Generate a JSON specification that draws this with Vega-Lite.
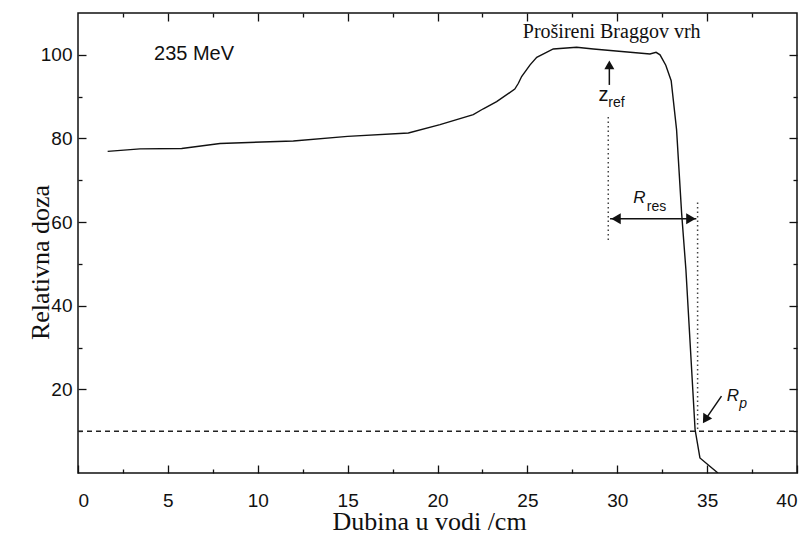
{
  "$schema": "https://vega.github.io/schema/vega-lite/v6.json",
  "width": 719,
  "height": 460,
  "autosize": {"type": "none"},
  "padding": {"left": 78, "top": 13, "right": 14, "bottom": 61},
  "background": "white",
  "config": {
    "view": {"stroke": "#111", "strokeWidth": 1.5},
    "axis": {
      "domain": false, "grid": false,
      "labelFont": "Liberation Sans", "labelFontSize": 19, "labelColor": "#111",
      "tickColor": "#111", "tickWidth": 1.3,
      "titleFont": "Liberation Serif", "titleFontSize": 26, "titleFontWeight": "normal", "titleColor": "#111"
    }
  },
  "datasets": {
    "curve": [
      {"d": 1.65, "v": 76.9}, {"d": 3.45, "v": 77.5}, {"d": 5.77, "v": 77.6}, {"d": 7.9, "v": 78.8},
      {"d": 11.98, "v": 79.4}, {"d": 15.0, "v": 80.5}, {"d": 18.38, "v": 81.3}, {"d": 20.14, "v": 83.3},
      {"d": 21.99, "v": 85.7}, {"d": 22.55, "v": 87.1}, {"d": 23.29, "v": 88.8}, {"d": 24.3, "v": 91.8},
      {"d": 24.5, "v": 93.2}, {"d": 24.68, "v": 94.8}, {"d": 25.15, "v": 97.6}, {"d": 25.52, "v": 99.4},
      {"d": 26.44, "v": 101.4}, {"d": 27.74, "v": 101.8}, {"d": 28.67, "v": 101.4}, {"d": 31.82, "v": 100.2},
      {"d": 32.16, "v": 100.6}, {"d": 32.38, "v": 100.0}, {"d": 32.7, "v": 97.5}, {"d": 33.0, "v": 93.8},
      {"d": 33.3, "v": 82.1}, {"d": 33.58, "v": 62.2}, {"d": 33.82, "v": 48.6}, {"d": 34.33, "v": 10.4},
      {"d": 34.6, "v": 3.6}, {"d": 35.6, "v": 0}
    ]
  },
  "resolve": {"axis": {"x": "independent", "y": "independent"}},
  "layer": [
    {
      "data": {"name": "curve"},
      "mark": {"type": "line", "color": "#111", "strokeWidth": 1.4, "clip": true},
      "encoding": {
        "x": {"field": "d", "type": "quantitative",
          "scale": {"domain": [0, 40], "nice": false, "zero": false},
          "axis": {"orient": "bottom", "values": [0, 5, 10, 15, 20, 25, 30, 35, 40], "format": "d",
            "offset": -8, "tickSize": 8, "labelPadding": 18, "title": "Dubina u vodi /cm",
            "titleX": 351, "titleY": 64, "titleBaseline": "alphabetic", "titleAlign": "center"}},
        "y": {"field": "v", "type": "quantitative",
          "scale": {"domain": [0, 110], "nice": false, "zero": false},
          "axis": {"orient": "left", "values": [20, 40, 60, 80, 100], "format": "d",
            "offset": -8, "tickSize": 8, "labelPadding": 6, "title": "Relativna doza",
            "titleX": -38, "titleY": 249, "titleBaseline": "alphabetic", "titleAlign": "center", "titleAngle": -90}}
      }
    },
    {
      "data": {"name": "curve"},
      "mark": {"type": "line", "opacity": 0},
      "encoding": {
        "x": {"field": "d", "type": "quantitative",
          "axis": {"orient": "bottom", "values": [2.5, 7.5, 12.5, 17.5, 22.5, 27.5, 32.5, 37.5], "offset": -4, "tickSize": 4, "labels": false, "title": null}},
        "y": {"field": "v", "type": "quantitative",
          "axis": {"orient": "left", "values": [10, 30, 50, 70, 90], "offset": -4, "tickSize": 4, "labels": false, "title": null}}
      }
    },
    {
      "data": {"name": "curve"},
      "mark": {"type": "line", "opacity": 0},
      "encoding": {
        "x": {"field": "d", "type": "quantitative",
          "axis": {"orient": "top", "values": [5, 10, 15, 20, 25, 30, 35], "offset": -8, "tickSize": 8, "labels": false, "title": null}},
        "y": {"field": "v", "type": "quantitative",
          "axis": {"orient": "right", "values": [20, 40, 60, 80, 100], "offset": -8, "tickSize": 8, "labels": false, "title": null}}
      }
    },
    {
      "data": {"name": "curve"},
      "mark": {"type": "line", "opacity": 0},
      "encoding": {
        "x": {"field": "d", "type": "quantitative",
          "axis": {"orient": "top", "values": [2.5, 7.5, 12.5, 17.5, 22.5, 27.5, 32.5, 37.5], "offset": -4, "tickSize": 4, "labels": false, "title": null}},
        "y": {"field": "v", "type": "quantitative",
          "axis": {"orient": "right", "values": [10, 30, 50, 70, 90], "offset": -4, "tickSize": 4, "labels": false, "title": null}}
      }
    },
    {
      "data": {"values": [{"x": 0, "x2": 40, "y": 10}]},
      "mark": {"type": "rule", "color": "#222", "strokeWidth": 1.4, "strokeDash": [5, 4]},
      "encoding": {
        "x": {"field": "x", "type": "quantitative", "axis": null},
        "x2": {"field": "x2"},
        "y": {"field": "y", "type": "quantitative", "axis": null}
      }
    },
    {
      "data": {"values": [{"x": 29.5, "y": 55.7, "y2": 85.7}, {"x": 34.47, "y": 10.5, "y2": 65}]},
      "mark": {"type": "rule", "color": "#444", "strokeWidth": 1.5, "strokeDash": [1.5, 3]},
      "encoding": {
        "x": {"field": "x", "type": "quantitative", "axis": null},
        "y": {"field": "y", "type": "quantitative", "axis": null},
        "y2": {"field": "y2"}
      }
    },
    {
      "data": {"values": [
        {"x": 29.6, "x2": 34.4, "y": 60.8, "y2": 60.8},
        {"x": 29.56, "x2": 29.56, "y": 92.8, "y2": 97},
        {"x": 35.8, "x2": 34.94, "y": 18.4, "y2": 13.0}
      ]},
      "mark": {"type": "rule", "color": "#111", "strokeWidth": 1.5},
      "encoding": {
        "x": {"field": "x", "type": "quantitative", "axis": null},
        "x2": {"field": "x2"},
        "y": {"field": "y", "type": "quantitative", "axis": null},
        "y2": {"field": "y2"}
      }
    },
    {
      "data": {"values": [{"x": 29.93, "y": 60.8}]},
      "mark": {"type": "point", "shape": "triangle-left", "filled": true, "color": "#111", "size": 120, "opacity": 1},
      "encoding": {"x": {"field": "x", "type": "quantitative", "axis": null}, "y": {"field": "y", "type": "quantitative", "axis": null}}
    },
    {
      "data": {"values": [{"x": 34.1, "y": 60.8}]},
      "mark": {"type": "point", "shape": "triangle-right", "filled": true, "color": "#111", "size": 120, "opacity": 1},
      "encoding": {"x": {"field": "x", "type": "quantitative", "axis": null}, "y": {"field": "y", "type": "quantitative", "axis": null}}
    },
    {
      "data": {"values": [{"x": 29.56, "y": 97.6}]},
      "mark": {"type": "point", "shape": "triangle-up", "filled": true, "color": "#111", "size": 100, "opacity": 1},
      "encoding": {"x": {"field": "x", "type": "quantitative", "axis": null}, "y": {"field": "y", "type": "quantitative", "axis": null}}
    },
    {
      "data": {"values": [{"x": 34.9, "y": 12.8}]},
      "mark": {"type": "point", "shape": "triangle-up", "filled": true, "color": "#111", "size": 110, "opacity": 1, "angle": 212},
      "encoding": {"x": {"field": "x", "type": "quantitative", "axis": null}, "y": {"field": "y", "type": "quantitative", "axis": null}}
    },
    {
      "data": {"values": [{"x": 4.23, "y": 100.2, "t": "235 MeV"}]},
      "mark": {"type": "text", "font": "Liberation Sans", "fontSize": 20, "align": "left", "baseline": "middle", "color": "#111"},
      "encoding": {"x": {"field": "x", "type": "quantitative", "axis": null}, "y": {"field": "y", "type": "quantitative", "axis": null}, "text": {"field": "t"}}
    },
    {
      "data": {"values": [{"x": 29.69, "y": 104.1, "t": "Prošireni Braggov vrh"}]},
      "mark": {"type": "text", "font": "Liberation Serif", "fontSize": 20, "align": "center", "baseline": "alphabetic", "color": "#111"},
      "encoding": {"x": {"field": "x", "type": "quantitative", "axis": null}, "y": {"field": "y", "type": "quantitative", "axis": null}, "text": {"field": "t"}}
    },
    {
      "data": {"values": [{"x": 28.95, "y": 88.84, "t": "z"}]},
      "mark": {"type": "text", "font": "Liberation Sans", "fontSize": 20, "align": "left", "baseline": "alphabetic", "color": "#111"},
      "encoding": {"x": {"field": "x", "type": "quantitative", "axis": null}, "y": {"field": "y", "type": "quantitative", "axis": null}, "text": {"field": "t"}}
    },
    {
      "data": {"values": [{"x": 29.5, "y": 87.64, "t": "ref"}, {"x": 31.64, "y": 62.54, "t": "res"}]},
      "mark": {"type": "text", "font": "Liberation Sans", "fontSize": 14, "align": "left", "baseline": "alphabetic", "color": "#111"},
      "encoding": {"x": {"field": "x", "type": "quantitative", "axis": null}, "y": {"field": "y", "type": "quantitative", "axis": null}, "text": {"field": "t"}}
    },
    {
      "data": {"values": [{"x": 30.89, "y": 64.55, "t": "R"}, {"x": 36.09, "y": 17.12, "t": "R"}]},
      "mark": {"type": "text", "font": "Liberation Sans", "fontSize": 17, "fontStyle": "italic", "align": "left", "baseline": "alphabetic", "color": "#111"},
      "encoding": {"x": {"field": "x", "type": "quantitative", "axis": null}, "y": {"field": "y", "type": "quantitative", "axis": null}, "text": {"field": "t"}}
    },
    {
      "data": {"values": [{"x": 36.79, "y": 15.6, "t": "p"}]},
      "mark": {"type": "text", "font": "Liberation Sans", "fontSize": 14, "fontStyle": "italic", "align": "left", "baseline": "alphabetic", "color": "#111"},
      "encoding": {"x": {"field": "x", "type": "quantitative", "axis": null}, "y": {"field": "y", "type": "quantitative", "axis": null}, "text": {"field": "t"}}
    }
  ]
}
